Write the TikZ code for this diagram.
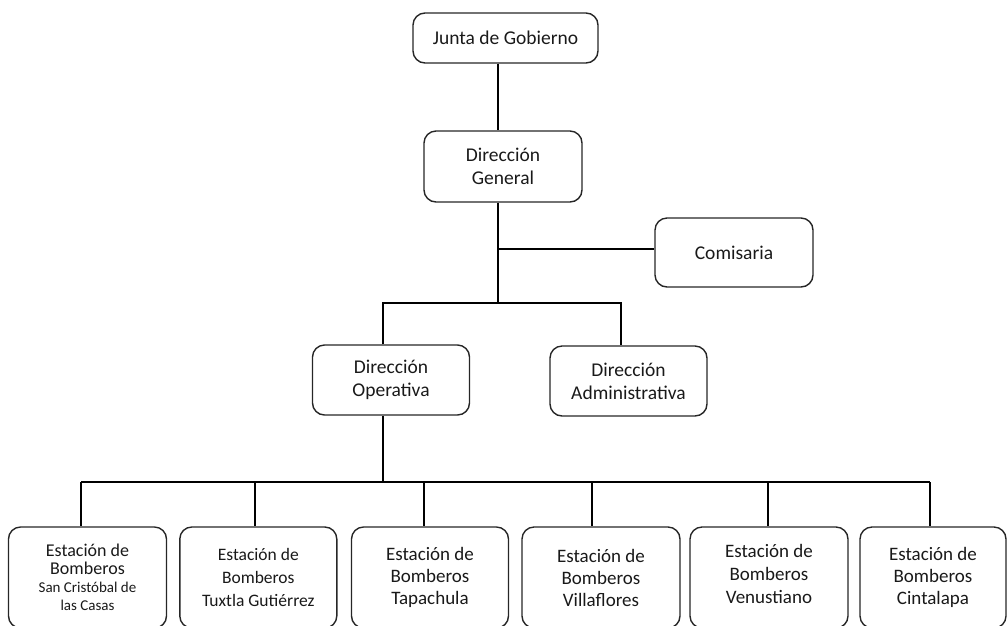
\documentclass[tikz,border=0pt]{standalone}
\usepackage{fontspec}
\setmainfont{Carlito}
\begin{document}
\begin{tikzpicture}[x=1pt,y=-1pt,
  box/.style={draw=black!85, line width=1.4pt, rounded corners=12pt, align=center,
    inner sep=2pt, text=black!90, font=\fontsize{19.5}{23}\selectfont},
  conn/.style={draw=black, line width=2pt}]
\useasboundingbox (0,0) rectangle (1008,625);
\node[box, minimum width=185pt, minimum height=50pt] (junta) at (505.5,38) {Junta de Gobierno};
\node[box, minimum width=158pt, minimum height=71pt] (dg) at (503,166.5) {Dirección\\General};
\node[box, minimum width=158pt, minimum height=69pt] (com) at (734,252.5) {Comisaria};
\node[box, minimum width=157pt, minimum height=70pt] (do) at (391,380) {Dirección\\Operativa};
\node[box, minimum width=157pt, minimum height=70pt] (da) at (628.5,381) {Dirección\\Administrativa};
\node[box, minimum width=158pt, minimum height=101pt, font=\fontsize{18}{18}\selectfont] (b1) at (87.5,577.5)
  {Estación de\\Bomberos\\{\fontsize{15}{17.5}\selectfont San Cristóbal de}\\{\fontsize{15}{17.5}\selectfont las Casas}};
\node[box, minimum width=157pt, minimum height=101pt, font=\fontsize{17.5}{23}\selectfont] (b2) at (258.3,577.5) {Estación de\\Bomberos\\Tuxtla Gutiérrez};
\node[box, minimum width=157pt, minimum height=101pt, font=\fontsize{19}{22}\selectfont] (b3) at (430,577.5) {Estación de\\Bomberos\\Tapachula};
\node[box, minimum width=158pt, minimum height=101pt, font=\fontsize{19}{22}\selectfont] (b4) at (601,577.5) {Estación de\\Bomberos\\Villaflores};
\node[box, minimum width=158pt, minimum height=101pt, font=\fontsize{19}{23}\selectfont] (b5) at (769,577.5) {Estación de\\Bomberos\\Venustiano\\[-16pt]\mbox{}};
\node[box, minimum width=146pt, minimum height=101pt, font=\fontsize{19}{22}\selectfont] (b6) at (933,577.5) {Estación de\\Bomberos\\Cintalapa};
\coordinate (t1) at (498,249);
\coordinate (t2) at (498,303);
\coordinate (opL) at (382.7,303);
\coordinate (adR) at (621,303);
\coordinate (bus) at (382.7,482);
\coordinate (d1) at (81,482);
\coordinate (d2) at (255,482);
\coordinate (d3) at (424.3,482);
\coordinate (d4) at (592,482);
\coordinate (d5) at (767.7,482);
\coordinate (d6) at (930,482);
\draw[conn] (junta.south -| t1) -- (dg.north -| t1);
\draw[conn] (dg.south -| t1) -- (t2);
\draw[conn] (t1) -- (t1 -| com.west);
\draw[conn] (do.north -| opL) -- (opL) -- (adR) -- (da.north -| adR);
\draw[conn] (do.south -| bus) -- (bus);
\draw[conn] (d1) -- (d6);
\foreach \i in {1,...,6} { \draw[conn] (d\i) -- (b\i.north -| d\i); }
\end{tikzpicture}
\end{document}
